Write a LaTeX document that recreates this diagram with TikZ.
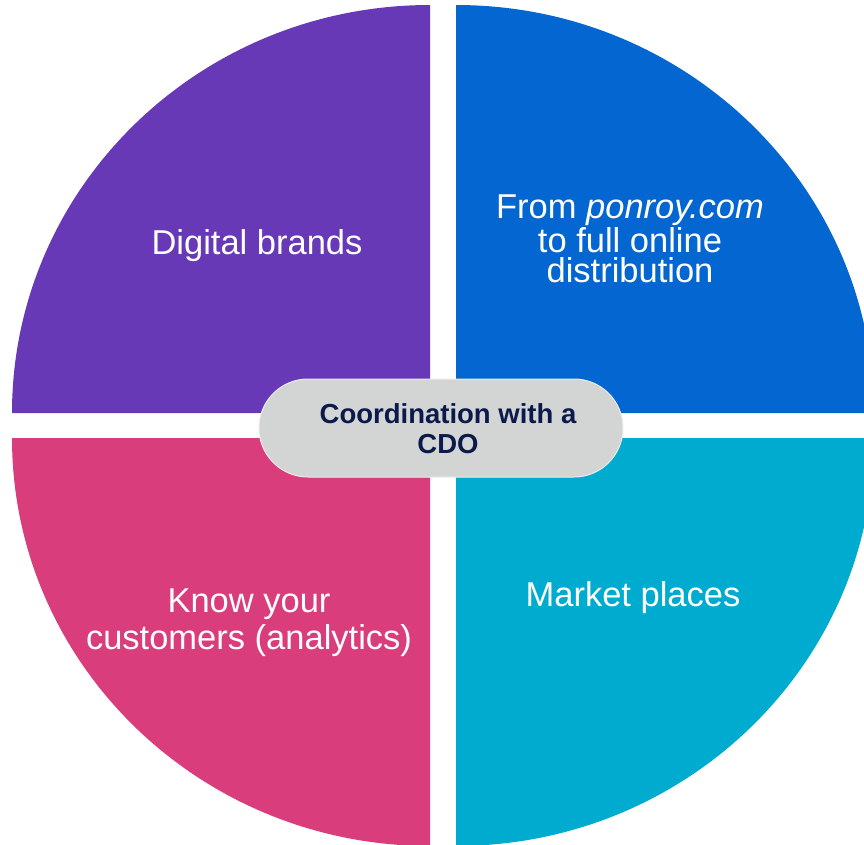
\documentclass[tikz,border=0pt]{standalone}
\usepackage{fontspec}
\setmainfont{Liberation Sans}
\definecolor{qpurple}{HTML}{6739B6}
\definecolor{qblue}{HTML}{0466D0}
\definecolor{qpink}{HTML}{DA3D7C}
\definecolor{qcyan}{HTML}{00ABD0}
\definecolor{hubgray}{HTML}{D3D5D5}
\definecolor{hubtext}{HTML}{0B1A4A}
\begin{document}
\begin{tikzpicture}[x=1pt,y=-1pt,
  quadlabel/.style={text=white, align=center, anchor=base,
    font=\fontsize{34.5}{30}\selectfont, inner sep=0pt},
  hub/.style={fill=hubgray, draw=white!85!gray, line width=1pt,
    rounded corners=49pt, minimum width=364pt, minimum height=98pt,
    inner sep=0pt},
  hubtext/.style={text=hubtext, align=center, anchor=base, inner sep=0pt,
    font=\fontsize{27.5}{30}\selectfont\bfseries}]
\useasboundingbox (0,0) rectangle (864,844);
\clip (0,0) rectangle (864,844);
% four quarter discs around the central cross
\fill[qpurple] (430,413) -- (12,413)
  arc[start angle=180, end angle=90, x radius=418pt, y radius=408pt] -- cycle;
\fill[qblue] (456,413) -- (456,5)
  arc[start angle=90, end angle=0, x radius=418pt, y radius=408pt] -- cycle;
\fill[qpink] (430,438) -- (12,438)
  arc[start angle=180, end angle=270, x radius=418pt, y radius=408pt] -- cycle;
\fill[qcyan] (456,438) -- (456,846)
  arc[start angle=270, end angle=360, x radius=418pt, y radius=408pt] -- cycle;
% quadrant labels (anchored on the baseline of their last line)
\node[quadlabel] (digital) at (257,254) {Digital brands};
\node[quadlabel] (online) at (630,282) {From \textit{ponroy.com}\\to full online\\distribution};
\node[quadlabel, font=\fontsize{34.5}{37}\selectfont] (customers) at (249,649) {Know your\\customers (analytics)};
\node[quadlabel] (market) at (633,606) {Market places};
% central hub
\node[hub] (cdo) at (441,428) {};
\node[hubtext] (cdolabel) at (448,453) {Coordination with a\\CDO};
\end{tikzpicture}
\end{document}
